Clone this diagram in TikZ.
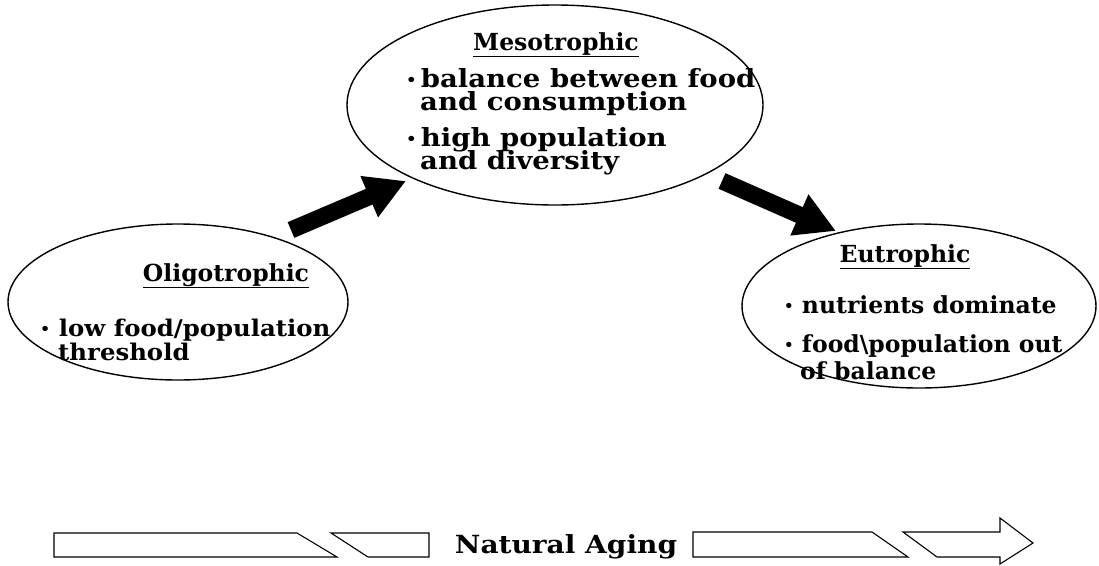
\documentclass[tikz,border=0pt]{standalone}
\usepackage{fontspec}
\setmainfont{DejaVu Serif}
\newfontfamily\bodyfont[FakeStretch=1.1]{DejaVu Serif}
\newfontfamily\obodyfont[FakeStretch=1.06]{DejaVu Serif}
\newfontfamily\bandfont[FakeStretch=1.12]{DejaVu Serif}
\usetikzlibrary{arrows.meta}
\newcommand{\blt}{{\fontsize{15}{15}\selectfont\raisebox{1.5pt}{•}}}
\begin{document}
\begin{tikzpicture}[x=1pt,y=-1pt,
  stage/.style={draw=black,line width=1.4pt},
  txt/.style={font=\bodyfont\bfseries\fontsize{25}{23}\selectfont,inner sep=0pt,anchor=base west,align=left},
  otxt/.style={font=\obodyfont\bfseries\fontsize{23}{23}\selectfont,inner sep=0pt,anchor=base west,align=left},
  etxt/.style={font=\bfseries\fontsize{23.5}{23}\selectfont,inner sep=0pt,anchor=base west,align=left},
  head/.style={font=\bfseries\fontsize{23.5}{23}\selectfont,inner sep=0pt,anchor=base},
  bandtxt/.style={font=\bandfont\bfseries\fontsize{25}{23}\selectfont,inner sep=0pt,anchor=base},
  bigarrow/.style={line width=17pt,-{Triangle[length=40pt,width=42pt]}},
  band/.style={draw=black,line width=1.1pt,line join=miter}]
\useasboundingbox (0,0) rectangle (1099,565);
% ellipses
\draw[stage] (555,105) ellipse [x radius=208, y radius=100];
\draw[stage] (178,302) ellipse [x radius=170, y radius=78];
\draw[stage] (919,306) ellipse [x radius=177, y radius=82];
% Mesotrophic
\node[head] (mh) at (556,50) {\underline{Mesotrophic}};
\node[txt] (m1) at (406,87) {\blt\,balance between food};
\node[txt] (m2) at (420,110) {and consumption};
\node[txt] (m3) at (406,146) {\blt\,high population};
\node[txt] (m4) at (420,169) {and diversity};
% Oligotrophic
\node[head] (oh) at (226,281) {\underline{Oligotrophic}};
\node[otxt] (o1) at (40,336) {\blt\ low food/population};
\node[otxt] (o2) at (58,360) {threshold};
% Eutrophic
\node[head] (eh) at (905,262) {\underline{Eutrophic}};
\node[etxt] (e1) at (784,313) {\blt\ nutrients dominate};
\node[etxt] (e2) at (784,352) {\blt\ food\textbackslash population out};
\node[etxt] (e3) at (800,379) {of balance};
% big arrows
\coordinate (la) at (291,230);
\coordinate (lb) at (406,181);
\coordinate (ra) at (722,181);
\coordinate (rb) at (836,231);
\draw[bigarrow] (la) -- (lb);
\draw[bigarrow] (ra) -- (rb);
% band
\draw[band] (54,533) -- (297,533) -- (337,557) -- (54,557) -- cycle;
\draw[band] (331,533) -- (429,533) -- (429,557) -- (368,557) -- cycle;
\node[bandtxt] (na) at (566,553) {Natural Aging};
\draw[band] (693,532) -- (872,532) -- (908,557) -- (693,557) -- cycle;
\draw[band] (903,532) -- (1000,532) -- (1000,518) -- (1033,543) -- (1000,564) -- (1000,557) -- (937,557) -- cycle;
\end{tikzpicture}
\end{document}
